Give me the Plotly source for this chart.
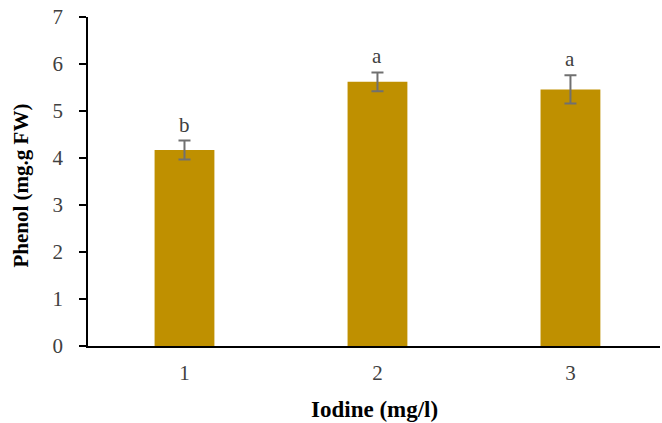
import plotly.graph_objects as go

categories = [1, 2, 3]
tick_labels = ["1", "2", "3"]
phenol = [4.17, 5.62, 5.46]
errors = [0.2, 0.2, 0.3]
letters = ["b", "a", "a"]

fig = go.Figure()
fig.add_trace(go.Bar(
    x=categories, y=phenol, width=0.31,
    marker=dict(color="#BF9000", line=dict(width=0)),
    error_y=dict(type="data", array=errors, visible=True, color="#707070", thickness=2, width=6),
))

for c, v, e, t in zip(categories, phenol, errors, letters):
    fig.add_annotation(x=c, y=v + e, text=t, showarrow=False, yanchor="bottom", yshift=2,
                       font=dict(family="Liberation Serif", size=21, color="#404040"))

fig.add_annotation(xref="paper", yref="paper", x=0.5, y=0, yshift=-63, yanchor="middle",
                   text="<b>Iodine (mg/l)</b>", showarrow=False,
                   font=dict(family="Liberation Serif", size=23, color="black"))
fig.add_annotation(xref="paper", yref="paper", x=0, xshift=-68, y=0.5, yshift=-4, xanchor="center",
                   text="<b>Phenol (mg.g FW)</b>", showarrow=False, textangle=-90,
                   font=dict(family="Liberation Serif", size=21, color="black"))

fig.update_layout(
    width=662, height=423,
    margin=dict(l=88, r=2, t=17, b=77),
    plot_bgcolor="white", paper_bgcolor="white",
    showlegend=False,
    font=dict(family="Liberation Serif", size=21, color="#404040"),
    xaxis=dict(range=[0.5, 3.464], tickvals=categories, ticktext=tick_labels, automargin=False,
               showline=True, linecolor="black", linewidth=1.5, ticks="", showgrid=False,
               zeroline=False, ticklabelstandoff=7, ticklabeloverflow="allow"),
    yaxis=dict(range=[0, 7], dtick=1, showline=True, linecolor="black", linewidth=1.5, automargin=False,
               ticks="outside", ticklen=7, tickwidth=1.5, tickcolor="black", showgrid=False,
               zeroline=False, ticklabelstandoff=12, ticklabeloverflow="allow"),
)

fig.write_html("out.html", config={"displayModeBar": False},
               post_script="document.body.style.margin='0';")
